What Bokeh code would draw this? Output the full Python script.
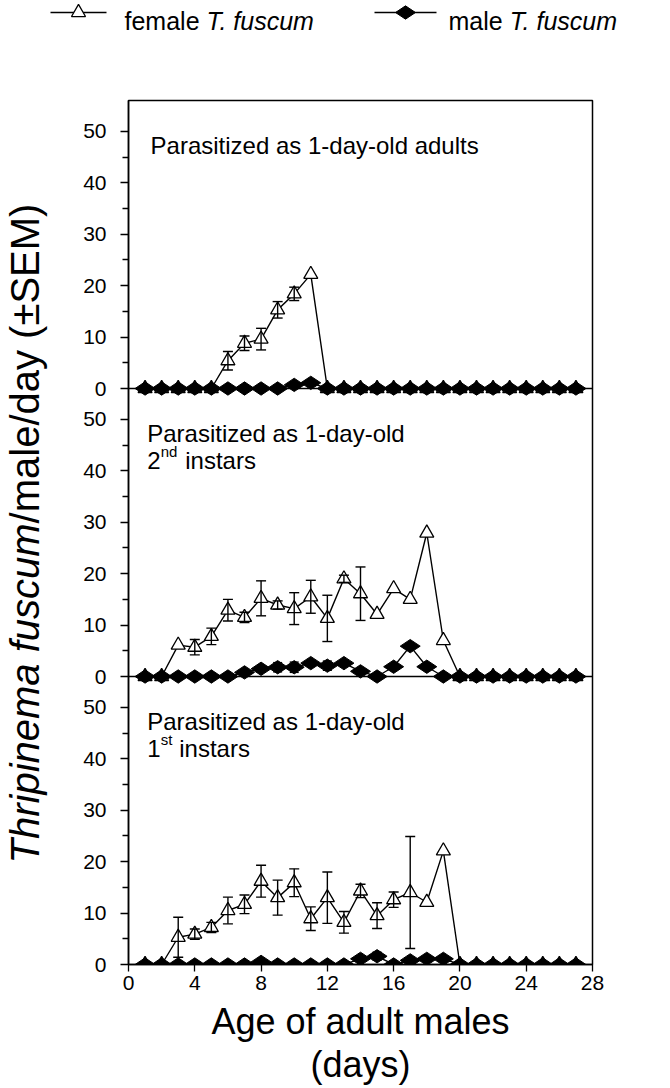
import numpy as np
from bokeh.plotting import figure
from bokeh.layouts import column, row
from bokeh.models import Range1d, FixedTicker, Span
from bokeh.core.properties import value
from bokeh.embed import file_html
from bokeh.resources import INLINE

# ---------------- data ----------------
days = [1, 2, 3, 4, 5, 6, 7, 8, 9, 10, 11, 12, 13, 14, 15, 16, 17, 18, 19, 20, 21, 22, 23, 24, 25, 26, 27]

# Parasitized as 1-day-old adults
adult_female = [0, 0, 0, 0, 0, 5.4, 8.8, 9.6, 15.3, 18.4, 22.2, 0, 0, 0, 0, 0, 0, 0, 0, 0, 0, 0, 0, 0, 0, 0, 0]
adult_female_sem = [0, 0, 0, 0, 0, 1.8, 1.4, 2.1, 1.6, 1.3, 0, 0, 0, 0, 0, 0, 0, 0, 0, 0, 0, 0, 0, 0, 0, 0, 0]
adult_male = [0, 0, 0, 0, 0, 0, 0, 0, 0, 0.7, 1.1, 0, 0, 0, 0, 0, 0, 0, 0, 0, 0, 0, 0, 0, 0, 0, 0]
adult_male_sem = [0, 0, 0, 0, 0, 0, 0, 0, 0, 0, 0, 0, 0, 0, 0, 0, 0, 0, 0, 0, 0, 0, 0, 0, 0, 0, 0]

# Parasitized as 1-day-old 2nd instars
second_female = [0, 0, 6.1, 5.7, 7.8, 12.9, 11.5, 15.2, 13.9, 13.2, 15.5, 11.3, 19.0, 16.1, 12.1, 17.1, 15.0, 27.9, 7.0, 0, 0, 0, 0, 0, 0, 0, 0]
second_female_sem = [0, 0, 0, 1.5, 1.6, 2.1, 1.0, 3.4, 0.8, 3.1, 3.2, 4.5, 0.7, 5.2, 0, 0, 0, 0, 0, 0, 0, 0, 0, 0, 0, 0, 0]
second_male = [0, 0, 0, 0, 0, 0, 0.8, 1.5, 1.8, 1.8, 2.6, 2.1, 2.6, 1.0, 0, 1.9, 5.9, 1.9, 0, 0, 0, 0, 0, 0, 0, 0, 0]
second_male_sem = [0, 0, 0, 0, 0, 0, 0, 0, 0.9, 1.0, 0, 0.9, 0, 0, 0, 0, 0, 0, 0, 0, 0, 0, 0, 0, 0, 0, 0]

# Parasitized as 1-day-old 1st instars
first_female = [0, 0, 5.3, 5.9, 7.2, 10.5, 11.7, 16.2, 13.0, 15.9, 8.9, 13.0, 8.2, 14.3, 9.5, 12.6, 14.0, 12.1, 22.1, 0, 0, 0, 0, 0, 0, 0, 0]
first_female_sem = [0, 0, 3.9, 1.0, 1.0, 2.6, 1.8, 3.1, 3.4, 2.7, 2.3, 5.0, 2.1, 1.3, 2.5, 1.5, 10.9, 0, 0, 0, 0, 0, 0, 0, 0, 0, 0]
first_male = [0, 0, 0, 0, 0, 0, 0, 0.5, 0, 0, 0, 0, 0, 1.1, 1.6, 0, 0.8, 1.1, 1.1, 0, 0, 0, 0, 0, 0, 0, 0]
first_male_sem = [0, 0, 0, 0, 0, 0, 0, 0, 0, 0, 0, 0, 0, 0, 0.8, 0, 0, 0, 0, 0, 0, 0, 0, 0, 0, 0, 0]

y_ticks = [0, 10, 20, 30, 40, 50]
y_minor = [5, 15, 25, 35, 45]
x_ticks = [0, 4, 8, 12, 16, 20, 24, 28]

panel_titles = ["Parasitized as 1-day-old adults", "Parasitized as 1-day-old", "Parasitized as 1-day-old"]
second_lines = [("", "", ""), ("2", "nd", "instars"), ("1", "st", "instars")]

FONT = "Liberation Sans"
H = 56  # data units per panel

# ---------------- layout constants (pixels) ----------------
HH = 99            # legend header height
LEFT_FIG_W = 58    # y-label strip width
BORDER_L, FRAME_W, BORDER_R = 70, 464, 20
BORDER_T, FRAME_H, BORDER_B = 1, 864, 118
MAIN_H = BORDER_T + FRAME_H + BORDER_B
MAIN_W = BORDER_L + FRAME_W + BORDER_R

# ---------------- main figure ----------------
p = figure(frame_width=FRAME_W, frame_height=FRAME_H, title=None,
           x_range=Range1d(0, 28), y_range=Range1d(0, 3 * H),
           output_backend="svg", toolbar_location=None,
           min_border_left=BORDER_L, min_border_right=BORDER_R,
           min_border_top=BORDER_T, min_border_bottom=BORDER_B)
p.extra_y_ranges = {"p1": Range1d(-2 * H, H), "p2": Range1d(-H, 2 * H)}
p.grid.visible = False
p.outline_line_color = "black"
p.outline_line_width = 1.5
p.background_fill_color = "white"
p.border_fill_color = "white"

ticks, minors, overrides = [], [], {}
for k in range(3):
    for t in y_ticks:
        ticks.append(k * H + t)
        overrides[k * H + t] = str(t)
    for m in y_minor:
        minors.append(k * H + m)
p.yaxis.ticker = FixedTicker(ticks=ticks, minor_ticks=minors)
p.yaxis.major_label_overrides = overrides
p.xaxis.ticker = FixedTicker(ticks=x_ticks, minor_ticks=[])
for ax in (p.xaxis[0], p.yaxis[0]):
    ax.axis_line_color = "black"
    ax.axis_line_width = 1.5
    ax.major_tick_line_color = "black"
    ax.major_tick_line_width = 1.3
    ax.minor_tick_line_color = "black"
    ax.minor_tick_line_width = 1.3
    ax.major_tick_in = 0
    ax.minor_tick_in = 0
    ax.major_label_text_font = FONT
    ax.major_label_text_font_size = "21px"
    ax.major_label_text_color = "black"
p.yaxis.major_tick_out = 8
p.yaxis.minor_tick_out = 6
p.yaxis.major_label_standoff = 14
p.xaxis.major_tick_out = 7
p.xaxis.major_label_standoff = 4
p.xaxis.axis_label = "Age of adult males\n(days)"
p.xaxis.axis_label_text_font = FONT
p.xaxis.axis_label_text_font_size = "36px"
p.xaxis.axis_label_text_font_style = "normal"
p.xaxis.axis_label_text_color = "black"
p.xaxis.axis_label_text_line_height = 1.05
p.xaxis.axis_label_standoff = 8

for loc in (H, 2 * H):
    p.add_layout(Span(location=loc, dimension="width", line_color="black", line_width=1.5))

panels = [
    ("p1", adult_female, adult_female_sem, adult_male, adult_male_sem),
    ("p2", second_female, second_female_sem, second_male, second_male_sem),
    ("default", first_female, first_female_sem, first_male, first_male_sem),
]

DIAMOND = dict(marker="diamond", angle=np.pi / 2, size=20, fill_color="black", line_color="black", line_width=1)
TRIANGLE = dict(marker="triangle", size=14, fill_color="white", line_color="black", line_width=1.3)

text_x = [1.33, 1.13, 1.13]
for i, (rng, fem, fem_sem, mal, mal_sem) in enumerate(panels):
    d = np.array(days, dtype=float)
    f = np.array(fem, dtype=float)
    fe = np.array(fem_sem, dtype=float)
    m = np.array(mal, dtype=float)
    me = np.array(mal_sem, dtype=float)

    p.line(d, f, y_range_name=rng, line_color="black", line_width=1.4)
    p.scatter(d, f, y_range_name=rng, **TRIANGLE)
    sel = fe > 0
    p.segment(d[sel], f[sel] - fe[sel], d[sel], f[sel] + fe[sel], y_range_name=rng,
              line_color="black", line_width=1.4)
    p.scatter(np.concatenate([d[sel], d[sel]]), np.concatenate([f[sel] + fe[sel], f[sel] - fe[sel]]),
              y_range_name=rng, marker="dash", size=10, line_color="black", line_width=1.4)

    p.line(d, m, y_range_name=rng, line_color="black", line_width=1.4)
    selm = me > 0
    p.segment(d[selm], m[selm] - me[selm], d[selm], m[selm] + me[selm], y_range_name=rng,
              line_color="black", line_width=1.4)
    p.scatter(np.concatenate([d[selm], d[selm]]), np.concatenate([m[selm] + me[selm], m[selm] - me[selm]]),
              y_range_name=rng, marker="dash", size=9, line_color="black", line_width=1.4)
    p.scatter(d, m, y_range_name=rng, **DIAMOND)

    # panel texts
    p.text(x=[text_x[i]], y=[47.3], text=[panel_titles[i]], y_range_name=rng,
           text_font=value(FONT), text_font_size="24px", text_color="black",
           text_align="left", text_baseline="alphabetic")
    num, sup, rest = second_lines[i]
    if num:
        p.text(x=[text_x[i]], y=[42.0], text=[num], y_range_name=rng,
               text_font=value(FONT), text_font_size="24px", text_color="black",
               text_align="left", text_baseline="alphabetic")
        p.text(x=[text_x[i]], y=[42.0], text=[sup], y_range_name=rng, x_offset=13.5, y_offset=-9,
               text_font=value(FONT), text_font_size="15px", text_color="black",
               text_align="left", text_baseline="alphabetic")
        p.text(x=[text_x[i]], y=[42.0], text=[rest], y_range_name=rng, x_offset=38 if sup == "nd" else 32,
               text_font=value(FONT), text_font_size="24px", text_color="black",
               text_align="left", text_baseline="alphabetic")

# ---------------- y-axis label strip ----------------
ylab = figure(frame_width=LEFT_FIG_W, frame_height=MAIN_H, title=None,
              x_range=Range1d(0, LEFT_FIG_W), y_range=Range1d(0, MAIN_H),
              output_backend="svg", toolbar_location=None,
              x_axis_location=None, y_axis_location=None, min_border=0)
ylab.grid.visible = False
ylab.outline_line_color = None
YFS = 40
y_start = HH + MAIN_H - 862   # label starts at page y 862
ylab.text(x=[24], y=[y_start], text=["Thripinema fuscum"], angle=np.pi / 2,
          text_font=value(FONT), text_font_size=f"{YFS}px", text_font_style="italic",
          text_color="black", text_align="left", text_baseline="alphabetic")
ylab.text(x=[24], y=[y_start + 8.502 * YFS], text=["/male/day (±SEM)"], angle=np.pi / 2,
          text_font=value(FONT), text_font_size=f"{YFS}px",
          text_color="black", text_align="left", text_baseline="alphabetic")

# ---------------- legend header ----------------
HW = 664
hdr = figure(frame_width=HW, frame_height=HH, title=None,
             x_range=Range1d(0, HW), y_range=Range1d(0, HH),
             output_backend="svg", toolbar_location=None,
             x_axis_location=None, y_axis_location=None, min_border=0)
hdr.grid.visible = False
hdr.outline_line_color = None
LFS = 25
ly = HH - 12
lb = HH - 20
hdr.line(x=[50, 106], y=[ly, ly], line_color="black", line_width=1.4)
hdr.scatter(x=[78], y=[ly], **TRIANGLE)
hdr.line(x=[374, 436], y=[ly, ly], line_color="black", line_width=1.4)
hdr.scatter(x=[405], y=[ly], **DIAMOND)
hdr.text(x=[124], y=[lb], text=["female "], text_font=value(FONT), text_font_size=f"{LFS}px",
         text_color="black", text_align="left", text_baseline="alphabetic")
hdr.text(x=[124 + 3.279 * LFS], y=[lb], text=["T. fuscum"], text_font=value(FONT), text_font_size=f"{LFS}px",
         text_font_style="italic", text_color="black", text_align="left", text_baseline="alphabetic")
hdr.text(x=[448], y=[lb], text=["male "], text_font=value(FONT), text_font_size=f"{LFS}px",
         text_color="black", text_align="left", text_baseline="alphabetic")
hdr.text(x=[448 + 2.445 * LFS], y=[lb], text=["T. fuscum"], text_font=value(FONT), text_font_size=f"{LFS}px",
         text_font_style="italic", text_color="black", text_align="left", text_baseline="alphabetic")

layout = column(hdr, row(ylab, p))
open("out.html", "w").write(file_html(layout, INLINE))
